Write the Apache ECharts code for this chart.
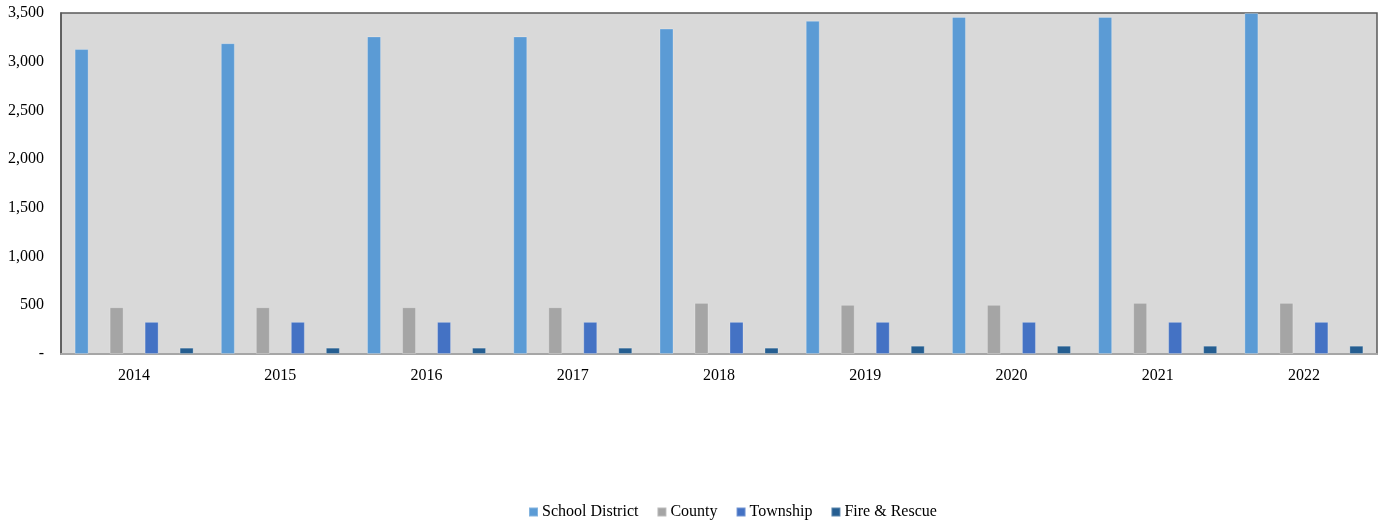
<!DOCTYPE html>
<html>
<head>
<meta charset="utf-8">
<script src="https://cdn.jsdelivr.net/npm/echarts@6/dist/echarts.min.js"></script>
<style>
  html, body { margin: 0; padding: 0; background: #fff; }
  #chart { width: 1378px; height: 525px; }
</style>
</head>
<body>
<div id="chart"></div>
<script>
// Years on the category axis
const years = ['2014', '2015', '2016', '2017', '2018', '2019', '2020', '2021', '2022'];

// Values per taxing body
const schoolDistrict = [3130, 3190, 3260, 3260, 3340, 3420, 3460, 3460, 3500];
const county = [480, 480, 480, 480, 525, 505, 505, 525, 525];
const township = [330, 330, 330, 330, 330, 330, 330, 330, 330];
const fireRescue = [65, 65, 65, 65, 65, 85, 85, 85, 85];

const seriesNames = ['School District', 'County', 'Township', 'Fire & Rescue'];
const seriesData = [schoolDistrict, county, township, fireRescue];
const seriesColors = ['#5B9BD5', '#A5A5A5', '#4472C4', '#255E91'];

const font = '"Liberation Serif", "Times New Roman", serif';

const chart = echarts.init(document.getElementById('chart'), null, { renderer: 'canvas' });

chart.setOption({
  animation: false,
  backgroundColor: '#ffffff',
  grid: {
    left: 61, top: 13, right: 1, bottom: 171,
    show: true,
    backgroundColor: '#D9D9D9',
    borderColor: '#595959',
    borderWidth: 1.5
  },
  legend: {
    top: 499,
    left: 523,
    itemWidth: 9,
    itemHeight: 9,
    itemGap: 18,
    icon: 'rect',
    textStyle: { fontFamily: font, fontSize: 16, color: '#000', padding: [0, 0, 0, -1] },
    data: seriesNames
  },
  xAxis: {
    type: 'category',
    data: years,
    axisLine: { show: true, lineStyle: { color: '#A6A6A6', width: 2 } },
    axisTick: { show: false },
    axisLabel: { fontFamily: font, fontSize: 16, color: '#000', margin: 14 },
    splitLine: { show: false }
  },
  yAxis: {
    type: 'value',
    min: 0,
    max: 3500,
    interval: 500,
    axisLine: { show: true, lineStyle: { color: '#595959', width: 1.5 } },
    axisTick: { show: false },
    splitLine: { show: false },
    axisLabel: {
      fontFamily: font, fontSize: 16, color: '#000', margin: 17,
      formatter: function (v) {
        return v === 0 ? '-' : v.toLocaleString('en-US');
      }
    }
  },
  series: seriesNames.map(function (name, i) {
    return {
      name: name,
      type: 'bar',
      data: seriesData[i],
      barWidth: 14,
      barGap: '150%',
      itemStyle: {
        color: seriesColors[i],
        borderColor: 'rgba(255,255,255,0.25)',
        borderWidth: 1
      }
    };
  })
});
</script>
</body>
</html>
